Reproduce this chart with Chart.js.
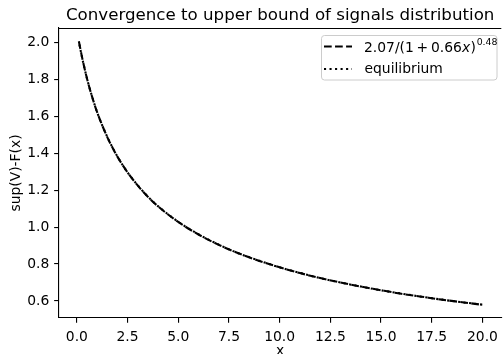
<!DOCTYPE html>
<html>
<head>
<meta charset="utf-8">
<script src="https://cdn.jsdelivr.net/npm/chart.js@4.4.1/dist/chart.umd.min.js"></script>
<style>
    html, body { margin: 0; padding: 0; background: #ffffff; }
    canvas { display: block; }
</style>
</head>
<body>
<canvas id="convChart" width="504" height="354"></canvas>
<script>
const xValues = [0.1, 0.25, 0.5, 0.75, 1, 1.5, 2, 2.5, 3, 3.5, 4, 5, 6, 7, 8, 9, 10, 11, 12, 13, 14, 15, 16, 17, 18, 19, 20];
const fitValues = [2.007, 1.924, 1.805, 1.707, 1.623, 1.488, 1.382, 1.297, 1.226, 1.165, 1.113, 1.028, 0.960, 0.904, 0.857, 0.817, 0.782, 0.751, 0.724, 0.700, 0.678, 0.658, 0.639, 0.623, 0.607, 0.593, 0.579];
const equilibriumValues = [2.005, 1.923, 1.806, 1.708, 1.623, 1.489, 1.383, 1.297, 1.227, 1.166, 1.114, 1.029, 0.961, 0.905, 0.857, 0.818, 0.782, 0.752, 0.724, 0.700, 0.678, 0.658, 0.640, 0.623, 0.607, 0.593, 0.580];
const xTicks = [0, 2.5, 5, 7.5, 10, 12.5, 15, 17.5, 20];
const yTicks = [0.6, 0.8, 1.0, 1.2, 1.4, 1.6, 1.8, 2.0];

const FONT = 'DejaVu Sans';
const PT = 100 / 72; // figure was saved at 100 dpi

function toPoints(ys) {
    return xValues.map((x, i) => ({ x: x, y: ys[i] }));
}

// top spine + legend box, matplotlib style
const framePlugin = {
    id: 'frame',
    afterDraw(chart) {
        const ctx = chart.ctx;
        const a = chart.chartArea;
        ctx.save();
        ctx.strokeStyle = '#000000';
        ctx.lineWidth = 0.8 * PT;
        ctx.beginPath();
        ctx.moveTo(a.left, a.top + 0.5);
        ctx.lineTo(a.right, a.top + 0.5);
        ctx.stroke();

        // legend
        ctx.beginPath();
        ctx.roundRect(321.5, 35.5, 175.5, 44.5, 3);
        ctx.fillStyle = 'rgba(255,255,255,0.8)';
        ctx.fill();
        ctx.strokeStyle = '#cccccc';
        ctx.lineWidth = 1;
        ctx.stroke();

        ctx.strokeStyle = '#000000';
        ctx.lineWidth = 1.5 * PT;
        ctx.setLineDash([5.55 * PT, 2.4 * PT]);
        ctx.beginPath();
        ctx.moveTo(324, 46.5);
        ctx.lineTo(352, 46.5);
        ctx.stroke();
        ctx.setLineDash([1.5 * PT, 2.475 * PT]);
        ctx.beginPath();
        ctx.moveTo(324, 69);
        ctx.lineTo(352, 69);
        ctx.stroke();
        ctx.setLineDash([]);

        ctx.fillStyle = '#000000';
        ctx.textBaseline = 'alphabetic';
        ctx.textAlign = 'left';
        const fs = 10 * PT;
        const base1 = 52;
        const pieces = [
            ['2.07/(1', '', 0, 0],
            ['+', '', 2.8, 0],
            ['0.66', '', 2.8, 0],
            ['x', 'oblique ', 0, 0],
            [')', '', 0.3, 0],
        ];
        let tx = 364;
        pieces.forEach((p) => {
            tx += p[2];
            ctx.font = p[1] + fs + 'px "' + FONT + '"';
            ctx.fillText(p[0], tx, base1);
            tx += ctx.measureText(p[0]).width;
        });
        ctx.font = 9.4 + 'px "' + FONT + '"';
        ctx.fillText('0.48', tx + 0.8, base1 - 7);

        ctx.font = fs + 'px "' + FONT + '"';
        ctx.fillText('equilibrium', 364.5, 73);
        ctx.restore();
    },
};

const ctx = document.getElementById('convChart');
const config = {
    type: 'line',
    data: {
        datasets: [
            {
                label: '2.07/(1+0.66x)^0.48',
                data: toPoints(fitValues),
                borderColor: '#000000',
                borderWidth: 1.5 * PT,
                borderDash: [5.55 * PT, 2.4 * PT],
                pointRadius: 0,
                cubicInterpolationMode: 'monotone',
                order: 1,
            },
            {
                label: 'equilibrium',
                data: toPoints(equilibriumValues),
                borderColor: '#000000',
                borderWidth: 1.5 * PT,
                borderDash: [1.5 * PT, 2.475 * PT],
                borderDashOffset: 2.71,
                pointRadius: 0,
                cubicInterpolationMode: 'monotone',
                order: 0,
            },
        ],
    },
    options: {
        responsive: false,
        animation: false,
        layout: { padding: 0 },
        plugins: {
            legend: { display: false },
            tooltip: { enabled: false },
            title: {
                display: true,
                fullSize: false,
                text: 'Convergence to upper bound of signals distribution',
                color: '#000000',
                font: { family: FONT, size: 12 * PT, weight: 'normal' },
                padding: { top: 5.7, bottom: 2.3 },
            },
        },
        scales: {
            x: {
                type: 'linear',
                min: -0.88,
                max: 20.93,
                afterBuildTicks: (scale) => {
                    scale.ticks = xTicks.map((v) => ({ value: v }));
                },
                afterFit: (scale) => {
                    scale.height = 36;
                },
                ticks: {
                    color: '#000000',
                    font: { family: FONT, size: 10 * PT },
                    padding: 6,
                    maxRotation: 0,
                    callback: (v) => v.toFixed(1),
                },
                grid: {
                    drawOnChartArea: false,
                    color: '#000000',
                    lineWidth: 0.8 * PT,
                    tickLength: 3.5 * PT,
                },
                border: { color: '#000000', width: 0.8 * PT },
                title: {
                    display: true,
                    text: 'x',
                    color: '#000000',
                    font: { family: FONT, size: 10 * PT },
                    padding: { top: 0, bottom: -6 },
                },
            },
            y: {
                type: 'linear',
                min: 0.5076,
                max: 2.079,
                afterBuildTicks: (scale) => {
                    scale.ticks = yTicks.map((v) => ({ value: v }));
                },
                afterFit: (scale) => {
                    scale.width = 59;
                },
                ticks: {
                    color: '#000000',
                    font: { family: FONT, size: 10 * PT },
                    padding: 3.5 * PT,
                    callback: (v) => v.toFixed(1),
                },
                grid: {
                    drawOnChartArea: false,
                    color: '#000000',
                    lineWidth: 0.8 * PT,
                    tickLength: 3.5 * PT,
                },
                border: { color: '#000000', width: 0.8 * PT },
                title: {
                    display: true,
                    text: 'sup(V)-F(x)',
                    color: '#000000',
                    font: { family: FONT, size: 10 * PT },
                    padding: { top: 8.3, bottom: 0 },
                },
            },
        },
    },
    plugins: [framePlugin],
};

const convChart = new Chart(ctx, config);
</script>
</body>
</html>
